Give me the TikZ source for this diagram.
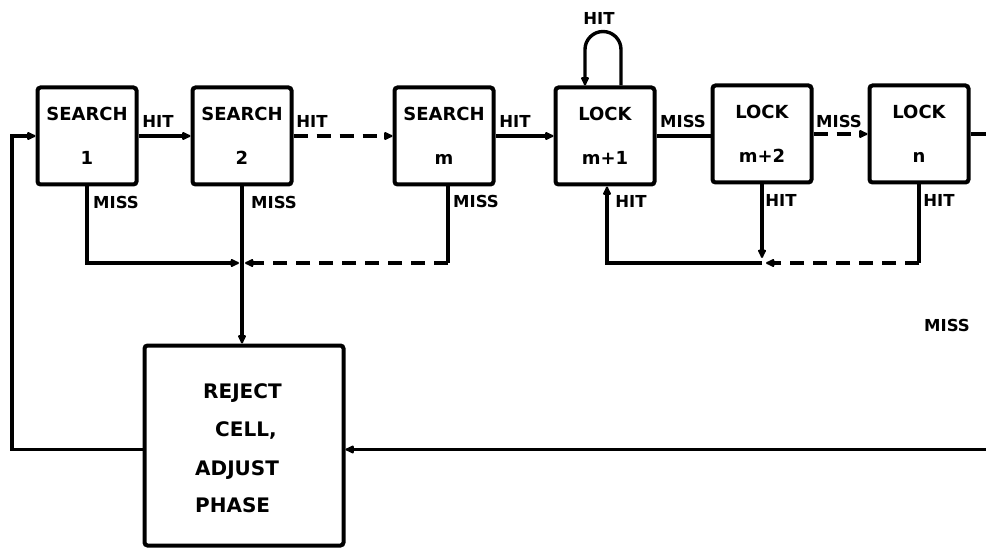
\documentclass[tikz,border=0pt]{standalone}
\usepackage{fontspec}
\setmainfont{DejaVu Sans}
\usetikzlibrary{arrows.meta}
\begin{document}
\begin{tikzpicture}[x=1pt,y=-1pt,
  blk/.style={draw, line width=4pt, rounded corners=3pt, minimum width=99pt, minimum height=97pt,
    align=center, inner sep=0pt, font=\bfseries\fontsize{18}{20}\selectfont},
  rtxt/.style={inner sep=0pt, font=\bfseries\fontsize{20}{22}\selectfont},
  lbl/.style={inner sep=0pt, font=\bfseries\fontsize{16.5}{18}\selectfont},
  conn/.style={line width=3.4pt},
  tip/.style={-{Latex[length=11pt,width=10pt,round]}},
  dsh/.style={dash pattern=on 14pt off 9pt}]
\useasboundingbox (0,0) rectangle (986,548);

% blocks
\node[blk] (s1) at (87,136) {SEARCH\\[24pt]1};
\node[blk] (s2) at (242,136) {SEARCH\\[24pt]2};
\node[blk] (sm) at (444,136) {SEARCH\\[24pt]m};
\node[blk] (l1) at (605,136) {LOCK\\[24pt]m+1};
\node[blk] (l2) at (762,134) {LOCK\\[24pt]m+2};
\node[blk] (ln) at (919,134) {LOCK\\[24pt]n};
\node[blk, minimum width=199pt, minimum height=200pt] (rej) at (244,445.5) {};
\node[rtxt, anchor=base west] (r1) at (203,398) {REJECT};
\node[rtxt, anchor=base west] (r2) at (215,436) {CELL,};
\node[rtxt, anchor=base west] (r3) at (195,475) {ADJUST};
\node[rtxt, anchor=base west] (r4) at (195,512) {PHASE};

% chain connectors
\draw[conn,tip] (s1.east) -- (s2.west);
\draw[conn,dsh,tip] (s2.east) -- (sm.west);
\draw[conn,tip] (sm.east) -- (l1.west);
\draw[conn] (l1.east) -- (l1.east -| l2.west);
\draw[conn,dsh,tip] (l2.east) -- (l2.east -| ln.west);
\coordinate (outR) at (986,134);
\draw[conn] (ln.east) -- (outR);

% feedback from reject box to search 1
\coordinate (cL) at (12,136);
\draw[conn,tip] ([yshift=-4pt]rej.west) -| (cL) -- (s1.west);
\coordinate (inR) at (986,449.5);
\draw[conn,tip] (inR) -- (inR -| rej.east);

% miss collection
\coordinate (j1) at (s2.south |- 0,263);
\draw[conn,tip] (s2.south) -- (s2.south |- rej.north);
\draw[conn,tip,shorten >=3pt] (s1.south) |- (j1);
\coordinate (c3) at ([xshift=4pt]sm.south |- j1);
\draw[conn] ([xshift=4pt]sm.south) -- (c3);
\draw[conn,dsh,tip,shorten >=3pt] (c3) -- (j1);

% lock hit collection
\coordinate (j2) at (l2.south |- 0,263);
\draw[conn,tip] (j2) -| ([xshift=2pt]l1.south);
\draw[conn,tip,shorten >=5pt] (l2.south) -- (j2);
\coordinate (c6) at (ln.south |- j2);
\draw[conn] (ln.south) -- (c6);
\draw[conn,dsh,tip,shorten >=4pt] (c6) -- (j2);

% self loop
\draw[conn,tip] ([xshift=16pt]l1.north) -- ++(0,-36) arc[start angle=0,end angle=180,radius=18pt] -- ([xshift=-20pt]l1.north);

% labels
\node[lbl] (hl) at (599,18) {HIT};
\node[lbl] (h1) at (158,121) {HIT};
\node[lbl] (h2) at (312,121) {HIT};
\node[lbl] (h3) at (515,121) {HIT};
\node[lbl] (m4) at (683,121) {MISS};
\node[lbl] (m5) at (839,121) {MISS};
\node[lbl] (m1) at (116,202) {MISS};
\node[lbl] (m2) at (274,202) {MISS};
\node[lbl] (m3) at (476,201) {MISS};
\node[lbl] (h6) at (631,201) {HIT};
\node[lbl] (h7) at (781,200) {HIT};
\node[lbl] (h8) at (939,200) {HIT};
\node[lbl] (m6) at (947,325) {MISS};
\end{tikzpicture}
\end{document}
